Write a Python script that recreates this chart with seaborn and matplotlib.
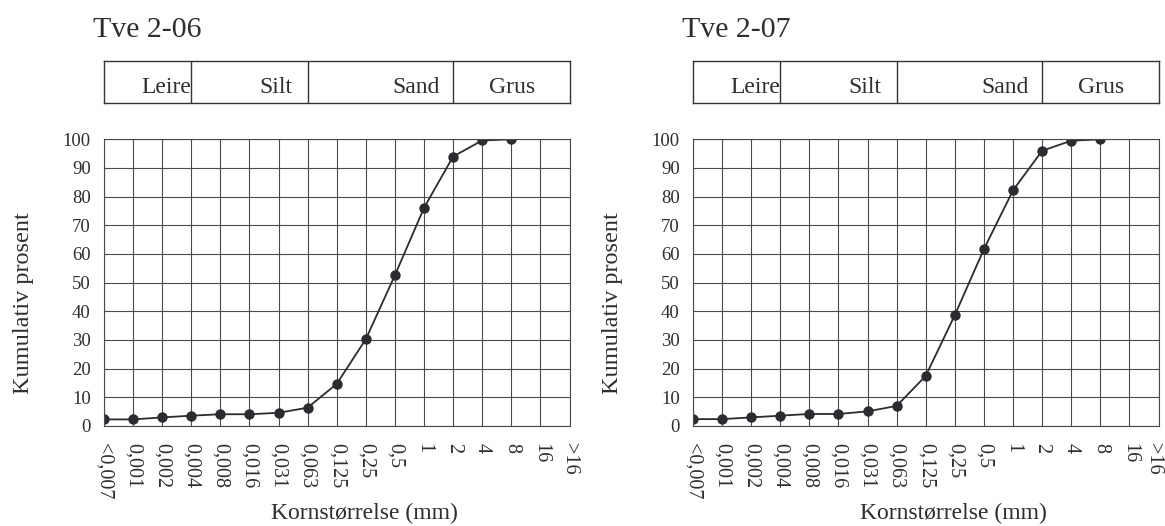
import matplotlib
matplotlib.use("Agg")
import matplotlib.pyplot as plt
import matplotlib.transforms as mtransforms
import seaborn as sns
import pandas as pd

# Grain size classes (mm) shown along the x axis
sizes = ["<0,007", "0,001", "0,002", "0,004", "0,008", "0,016", "0,031",
         "0,063", "0,125", "0,25", "0,5", "1", "2", "4", "8", "16", ">16"]

# Cumulative percent passing for each sample (up to 8 mm)
tve_2_06 = [2.3, 2.3, 3.0, 3.6, 4.1, 4.1, 4.6, 6.4, 14.7, 30.3, 52.6, 76.1, 94.0, 99.6, 100.0]
tve_2_07 = [2.4, 2.4, 3.0, 3.6, 4.2, 4.2, 5.1, 7.0, 17.5, 38.7, 61.7, 82.2, 96.0, 99.5, 100.0]

samples = ["Tve 2-06", "Tve 2-07"]
series = [tve_2_06, tve_2_07]

# Fraction names and the class index where each fraction ends
fractions = ["Leire", "Silt", "Sand", "Grus"]
fraction_bounds = [3, 7, 12]

y_ticks = list(range(0, 101, 10))

sns.set_style("white")
plt.rcParams["font.family"] = ["Liberation Serif", "DejaVu Serif"]
plt.rcParams["text.color"] = "#2e2e2e"
plt.rcParams["axes.labelcolor"] = "#2e2e2e"
plt.rcParams["xtick.color"] = "#2e2e2e"
plt.rcParams["ytick.color"] = "#2e2e2e"

W, H = 1165, 526
fig = plt.figure(figsize=(W / 100, H / 100), dpi=100)
fig.patch.set_facecolor("white")

ink = "#2b2b30"
grid_c = "#4a4a4a"

panel_lefts = [104, 693]
panel_width = 465.5
ax_top, ax_bottom = 139.3, 426.0
box_top, box_bottom = 60.7, 103.3

for i, (left, name, values) in enumerate(zip(panel_lefts, samples, series)):
    rect = [left / W, (H - ax_bottom) / H, panel_width / W, (ax_bottom - ax_top) / H]
    ax = fig.add_axes(rect)
    df = pd.DataFrame({"pos": range(len(values)), "pct": values})
    sns.lineplot(data=df, x="pos", y="pct", ax=ax, color=ink, linewidth=1.3,
                 marker="o", markersize=7.5, markeredgewidth=0, markerfacecolor=ink)
    ax.set_xlim(0, len(sizes) - 1)
    ax.set_ylim(0, 100)
    ax.set_xticks(range(len(sizes)))
    ax.set_xticklabels(sizes, rotation=270, ha="center", va="top", fontsize=14.5)
    ax.set_yticks(y_ticks)
    ax.set_yticklabels([str(v) for v in y_ticks], fontsize=13.5)
    ax.tick_params(axis="both", direction="out", length=5.5, width=0.8,
                   color="#333333")
    ax.tick_params(axis="x", pad=7)
    ax.tick_params(axis="y", pad=4)
    ax.grid(True, color=grid_c, linewidth=0.8)
    ax.set_axisbelow(True)
    for sp in ax.spines.values():
        sp.set_visible(True)
        sp.set_color(grid_c)
        sp.set_linewidth(0.8)

    # keep the last size label inside the figure edge
    if i == len(samples) - 1:
        last = ax.get_xticklabels()[-1]
        shift = mtransforms.ScaledTranslation(-5 / 100, 0, fig.dpi_scale_trans)
        last.set_transform(last.get_transform() + shift)

    ax.set_xlabel("Kornstørrelse (mm)", fontsize=17)
    ax.xaxis.set_label_coords((364.5 - 104) / 466, (ax_bottom - 519) / (ax_bottom - ax_top))
    ax.xaxis.label.set_va("baseline")
    ax.set_ylabel("Kumulativ prosent", fontsize=17.5)
    ax.yaxis.set_label_coords((23 - 104) / 466, (ax_bottom - 303) / (ax_bottom - ax_top))
    ax.yaxis.label.set_va("center")

    # Fraction band above the curve
    bax = fig.add_axes([left / W, (H - box_bottom) / H, panel_width / W,
                        (box_bottom - box_top) / H])
    bax.set_xlim(0, len(sizes) - 1)
    bax.set_ylim(0, 1)
    bax.set_xticks([])
    bax.set_yticks([])
    for sp in bax.spines.values():
        sp.set_visible(True)
        sp.set_color("#333333")
        sp.set_linewidth(1.0)
    for b in fraction_bounds:
        bax.axvline(b, color="#333333", linewidth=1.0)
    label_spots = [(3.0, "right"), (6.46, "right"), (11.54, "right"), (14.02, "center")]
    for (xpos, ha), lab in zip(label_spots, fractions):
        bax.text(xpos, 0.25, lab, ha=ha, va="baseline", fontsize=17)

    fig.text((left - 11) / W, 1 - 36.7 / H, name, ha="left", va="baseline", fontsize=21.5)

fig.savefig("out.png", dpi=100, facecolor="white")
